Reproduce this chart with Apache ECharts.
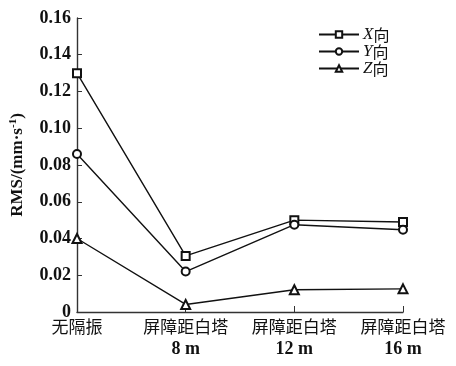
<!DOCTYPE html>
<html><head><meta charset="utf-8">
<script src="https://cdn.jsdelivr.net/npm/echarts@6/dist/echarts.min.js"></script>
<style>html,body{margin:0;padding:0;background:#fff}#c{width:456px;height:366px}</style>
</head><body><div id="c"></div>
<script>
const categories = ['无隔振', '屏障距白塔\n8 m', '屏障距白塔\n12 m', '屏障距白塔\n16 m'];
const seriesNames = ['X向', 'Y向', 'Z向'];
const xValues = [0.130, 0.0305, 0.050, 0.049];
const yValues = [0.086, 0.022, 0.0475, 0.0448];
const zValues = [0.040, 0.0041, 0.0121, 0.0126];
const yTicks = [0, 0.02, 0.04, 0.06, 0.08, 0.10, 0.12, 0.14, 0.16];

const serif = '"Liberation Serif", "Noto Sans CJK SC", serif';
const chart = echarts.init(document.getElementById('c'));
const mk = (name, data, sym) => ({
  name, type: 'line', data, symbol: sym, symbolSize: sym === 'emptyTriangle' ? 9 : 8,
  lineStyle: { color: '#111', width: 1.4 },
  itemStyle: { color: '#111', borderColor: '#111', borderWidth: 1 },
  emphasis: { disabled: true }, animation: false
});
chart.setOption({
  animation: false,
  grid: { left: 69, right: 53, top: 18, bottom: 54 },
  legend: {
    orient: 'vertical', left: 318, top: 26, padding: 0, itemWidth: 40, itemHeight: 8, itemGap: 0,
    data: seriesNames,
    formatter: n => '{i|' + n[0] + '}{c|' + n.slice(1) + '}',
    textStyle: {
      padding: [0, 0, 0, -1],
      rich: {
        i: { fontFamily: serif, fontStyle: 'italic', fontSize: 17, color: '#111', lineHeight: 18 },
        c: { fontFamily: '"Noto Sans CJK SC", serif', fontSize: 16, color: '#111', lineHeight: 18 }
      }
    }
  },
  xAxis: {
    type: 'category', data: categories, boundaryGap: false,
    axisLine: { lineStyle: { color: '#333', width: 1.4 } },
    axisTick: { inside: true, length: 6, lineStyle: { color: '#333' } },
    axisLabel: {
      color: '#111', fontSize: 17, lineHeight: 23, margin: 3,
      fontFamily: '"Noto Sans CJK SC", "Liberation Serif", serif', interval: 0,
      formatter: v => {
        const p = v.split('\n');
        return p.length > 1 ? '{c|' + p[0] + '}\n{n|' + p[1] + '}' : '{c|' + p[0] + '}';
      },
      rich: {
        c: { fontFamily: '"Noto Sans CJK SC", serif', fontSize: 17, color: '#111', lineHeight: 23 },
        n: { fontFamily: serif, fontSize: 18, fontWeight: 'bold', color: '#111', lineHeight: 23 }
      }
    },
    splitLine: { show: false }
  },
  yAxis: {
    type: 'value', min: 0, max: 0.16, interval: 0.02,
    axisLine: { show: true, lineStyle: { color: '#333', width: 1.4 } },
    axisTick: { show: true, inside: true, length: 5, lineStyle: { color: '#333' } },
    splitLine: { show: false },
    axisLabel: {
      color: '#111', fontSize: 18, fontWeight: 'bold', fontFamily: serif, margin: 6,
      formatter: v => { const t = yTicks.find(x => Math.abs(x - v) < 1e-9); return t === 0 ? '0' : t.toFixed(2); }
    },
    name: '{a|RMS/(mm·s}{s|-1}{a|)}', nameLocation: 'middle', nameGap: 50, nameRotate: 90,
    nameTextStyle: {
      rich: {
        a: { fontFamily: serif, fontSize: 17, fontWeight: 'bold', color: '#111' },
        s: { fontFamily: serif, fontSize: 11, fontWeight: 'bold', color: '#111', verticalAlign: 'top', padding: [0, 0, 8, 0] }
      }
    }
  },
  series: [
    mk(seriesNames[0], xValues, 'emptyRect'),
    mk(seriesNames[1], yValues, 'emptyCircle'),
    mk(seriesNames[2], zValues, 'emptyTriangle')
  ]
});
</script></body></html>
